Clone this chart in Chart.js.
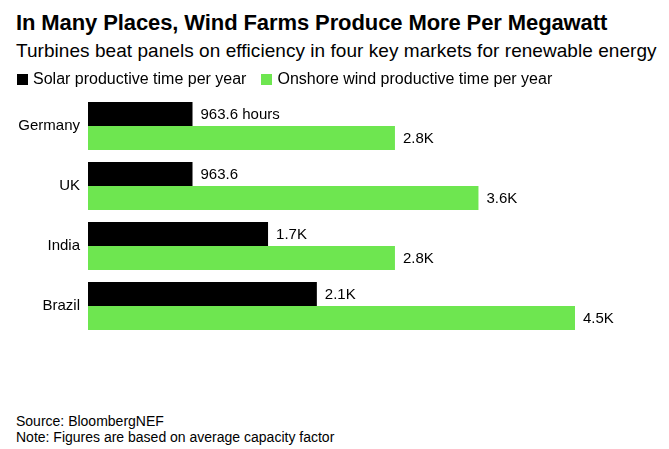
<!DOCTYPE html>
<html>
<head>
<meta charset="utf-8">
<script src="https://cdn.jsdelivr.net/npm/chart.js@4"></script>
<style>
  body { margin: 0; background: #fff; font-family: "Liberation Sans", Arial, sans-serif; color: #000; }
  #wrap { position: relative; width: 669px; height: 449px; overflow: hidden; }
  .title { position: absolute; left: 16px; top: 10px; font-size: 22px; font-weight: bold; letter-spacing: -0.1px; white-space: nowrap; }
  .subtitle { position: absolute; left: 16px; top: 40px; font-size: 19px; letter-spacing: 0.05px; white-space: nowrap; }
  .legend { position: absolute; left: 17px; top: 70px; font-size: 16px; white-space: nowrap; display: flex; align-items: center; }
  .legend span.sw { display: inline-block; width: 11px; height: 11px; margin-right: 5px; }
  .legend span.item { display: inline-flex; align-items: center; margin-right: 15px; }
  .footer { position: absolute; left: 16px; top: 413px; font-size: 14px; line-height: 16px; }
  #chartBox { position: absolute; left: 0; top: 78px; width: 669px; height: 278px; }
</style>
</head>
<body>
<div id="wrap">
  <div class="title">In Many Places, Wind Farms Produce More Per Megawatt</div>
  <div class="subtitle">Turbines beat panels on efficiency in four key markets for renewable energy</div>
  <div id="chartBox"><canvas id="chart"></canvas></div>
  <div class="legend">
    <span class="item"><span class="sw" style="background:#000"></span>Solar productive time per year</span>
    <span class="item"><span class="sw" style="background:#6ee650"></span>Onshore wind productive time per year</span>
  </div>
  <div class="footer">Source: BloombergNEF<br>Note: Figures are based on average capacity factor</div>
</div>
<script>
// data (hours per year)
const countries = ['Germany', 'UK', 'India', 'Brazil'];
const solarHours = [963.6, 963.6, 1660, 2110];
const windHours = [2830, 3600, 2830, 4490];
const seriesNames = ['Solar productive time per year', 'Onshore wind productive time per year'];

function fmt(v) {
    if (v < 1000) return v.toFixed(1);
    return (v / 1000).toFixed(1) + 'K';
}

// value labels to the right of each bar
const barLabels = {
    id: 'barLabels',
    afterDatasetsDraw(chart) {
        const ctx = chart.ctx;
        ctx.save();
        ctx.font = '15px "Liberation Sans", Arial, sans-serif';
        ctx.fillStyle = '#000';
        ctx.textBaseline = 'middle';
        ctx.textAlign = 'left';
        chart.data.datasets.forEach(function(ds, di) {
            chart.getDatasetMeta(di).data.forEach(function(bar, i) {
                let txt = fmt(ds.data[i]);
                if (di === 0 && i === 0) txt += ' hours';
                ctx.fillText(txt, bar.x + 8, bar.y + 1);
            });
        });
        ctx.restore();
    }
};

const ctx = document.getElementById('chart').getContext('2d');
const chart = new Chart(ctx, {
    type: 'bar',
    data: {
        labels: countries,
        datasets: [{
            label: seriesNames[0],
            data: solarHours,
            backgroundColor: '#000000',
            categoryPercentage: 0.8,
            barPercentage: 1
        }, {
            label: seriesNames[1],
            data: windHours,
            backgroundColor: '#6ee650',
            categoryPercentage: 0.8,
            barPercentage: 1
        }]
    },
    options: {
        indexAxis: 'y',
        responsive: true,
        maintainAspectRatio: false,
        animation: false,
        // y tick labels reserve ~17px above/below, so padding covers that
        layout: { padding: { top: 18, bottom: 20, left: 0, right: 17 } },
        plugins: {
            legend: { display: false },
            tooltip: { enabled: false }
        },
        scales: {
            x: {
                display: false,
                min: 0,
                max: 5200
            },
            y: {
                grid: { display: false, drawTicks: false },
                border: { display: false },
                ticks: {
                    color: '#000',
                    padding: 8,
                    font: { family: '"Liberation Sans", Arial, sans-serif', size: 15 }
                },
                afterFit: function(scale) { scale.width = 88; }
            }
        }
    },
    plugins: [barLabels]
});
</script>
</body>
</html>
